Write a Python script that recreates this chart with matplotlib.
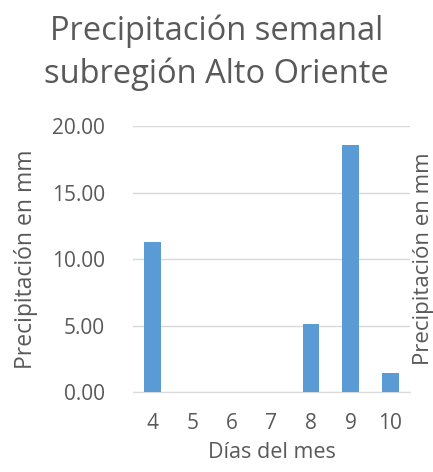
import matplotlib.pyplot as plt

dias = ["4", "5", "6", "7", "8", "9", "10"]
precip = [11.3, 0.05, 0.0, 0.0, 5.15, 18.6, 1.45]
yticks = [0, 5, 10, 15, 20]

plt.rcParams['font.family'] = ['Open Sans', 'DejaVu Sans']
gris = '#595959'

fig = plt.figure(figsize=(4.33, 4.72), dpi=100)
ax = fig.add_axes([0.307, 0.169, 0.64, 0.564])

x = list(range(len(dias)))
ax.bar(x, precip, width=0.42, color='#5b9bd5', zorder=3)

ax.set_ylim(0, 20)
ax.set_xlim(-0.5, len(dias) - 0.5)
ax.set_yticks(yticks)
ax.set_yticklabels([f"{v:.2f}" for v in yticks])
ax.set_xticks(x)
ax.set_xticklabels(dias)
ax.yaxis.grid(True, color='#d9d9d9', linewidth=1, zorder=0)
for s in ['top', 'right', 'left']:
    ax.spines[s].set_visible(False)
ax.spines['bottom'].set_color('#d9d9d9')
ax.tick_params(axis='both', length=0, labelsize=15, colors=gris, pad=15)
ax.tick_params(axis='y', pad=20)

ax.set_xlabel("Días del mes", fontsize=15.5, color=gris, labelpad=6)
ax.set_ylabel("Precipitación en mm", fontsize=16.5, color=gris, labelpad=10)

ax2 = ax.twinx()
ax2.set_yticks([])
for s in ax2.spines.values():
    s.set_visible(False)
ax2.set_ylabel("Precipitación en mm", fontsize=16, color=gris, labelpad=2)

fig.suptitle("Precipitación semanal\nsubregión Alto Oriente", fontsize=23.5,
             color=gris, y=0.97, linespacing=1.4)

fig.savefig("out.png", dpi=100)
